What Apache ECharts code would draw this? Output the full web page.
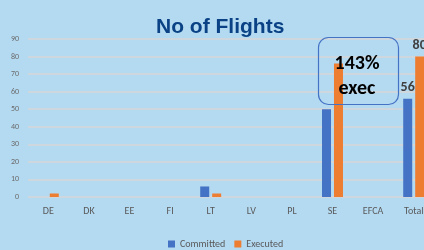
<!DOCTYPE html>
<html>
<head>
<meta charset="utf-8">
<script src="https://cdn.jsdelivr.net/npm/echarts@6/dist/echarts.min.js"></script>
<style>
  html, body { margin: 0; padding: 0; background: #b4daf2; overflow: hidden; }
  /* the plot runs past the right edge in the original, so the canvas is wider than the window */
  #chart { width: 440px; height: 250px; }
</style>
</head>
<body>
<div id="chart"></div>
<script>
// data
var categories = ["DE", "DK", "EE", "FI", "LT", "LV", "PL", "SE", "EFCA", "Total"];
var committed = [0, 0, 0, 0, 6, 0, 0, 50, 0, 56];
var executed = [2, 0, 0, 0, 2, 0, 0, 76, 0, 80];
var seriesNames = ["Committed", "Executed"];
var note = ["143%", "exec"];

var font = "Carlito, Lato, sans-serif";

// show value labels only on the Total bars
function totalLabel(p) {
  return p.name === "Total" ? p.value : "";
}

var myChart = echarts.init(document.getElementById("chart"));
var option = {
  backgroundColor: "#b4daf2",
  title: {
    text: "No of Flights",
    left: 151,
    top: 12,
    textStyle: { color: "#0a4285", fontSize: 21, fontWeight: "bold", fontFamily: "Liberation Sans" }
  },
  legend: {
    data: seriesNames,
    bottom: -4,
    left: 163,
    itemWidth: 7,
    itemHeight: 7,
    itemGap: 9,
    icon: "rect",
    textStyle: { color: "#595959", fontSize: 10, fontFamily: font }
  },
  grid: { left: 28, right: 6, top: 39, bottom: 53, containLabel: false },
  xAxis: {
    type: "category",
    data: categories,
    axisLine: { show: false },
    axisTick: { show: false },
    axisLabel: { color: "#595959", fontSize: 10, margin: 9, fontFamily: font }
  },
  yAxis: {
    type: "value",
    min: 0,
    max: 90,
    interval: 10,
    axisLabel: { color: "#6b6b6b", fontSize: 8, margin: 9, fontFamily: font },
    splitLine: { lineStyle: { color: "#d6d6d6", width: 1.5 } }
  },
  series: [
    {
      name: seriesNames[0],
      type: "bar",
      data: committed,
      barWidth: 9,
      barGap: "33%",
      itemStyle: { color: "#4472c4" },
      label: { show: true, position: "top", distance: 4, formatter: totalLabel, color: "#404040", fontSize: 14, fontWeight: "bold", fontFamily: font }
    },
    {
      name: seriesNames[1],
      type: "bar",
      data: executed,
      barWidth: 9,
      itemStyle: { color: "#ed7d31" },
      label: { show: true, position: "top", distance: 4, formatter: totalLabel, color: "#404040", fontSize: 14, fontWeight: "bold", fontFamily: font }
    }
  ],
  graphic: [
    {
      type: "rect",
      left: 316,
      top: 35,
      shape: { width: 80, height: 67, r: 10 },
      style: { fill: "none", stroke: "#4472c4", lineWidth: 1.2 },
      z: 100
    },
    {
      type: "text",
      x: 357,
      y: 64,
      style: { text: note[0], fill: "#000", font: "bold 20px " + font, align: "center", verticalAlign: "middle" },
      z: 101
    },
    {
      type: "text",
      x: 357,
      y: 89,
      style: { text: note[1], fill: "#000", font: "bold 20px " + font, align: "center", verticalAlign: "middle" },
      z: 101
    }
  ]
};
myChart.setOption(option);
</script>
</body>
</html>
